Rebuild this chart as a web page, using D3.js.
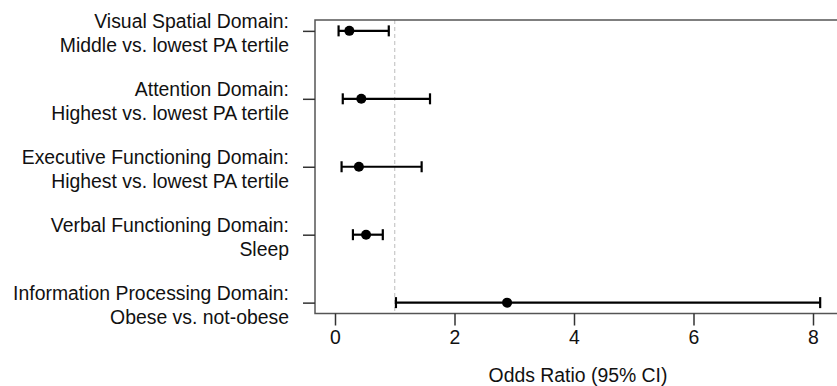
<!DOCTYPE html>
<html>
<head>
<meta charset="utf-8">
<script src="https://cdn.jsdelivr.net/npm/d3@7"></script>
<style>
  html, body { margin: 0; padding: 0; background: #fff; }
  svg { display: block; font-family: 'Liberation Sans', Arial, sans-serif; }
</style>
</head>
<body>
<div id="chart"></div>
<script>
// outcome labels, two lines each
const labelTop = [
  'Visual Spatial Domain:',
  'Attention Domain:',
  'Executive Functioning Domain:',
  'Verbal Functioning Domain:',
  'Information Processing Domain:'
];
const labelBottom = [
  'Middle vs. lowest PA tertile',
  'Highest vs. lowest PA tertile',
  'Highest vs. lowest PA tertile',
  'Sleep',
  'Obese vs. not-obese'
];
const oddsRatio = [0.24, 0.44, 0.40, 0.52, 2.88];
const ciLow = [0.06, 0.13, 0.11, 0.30, 1.02];
const ciHigh = [0.90, 1.59, 1.45, 0.80, 8.12];
const xTicks = [0, 2, 4, 6, 8];
const refValue = 1;

const width = 837;
const height = 386;
const frame = { left: 315, right: 841, top: 20, bottom: 313.5 };
const fontSize = 19.4;

const rows = labelTop.map((t, i) => ({
  id: i, top: t, bottom: labelBottom[i],
  or: oddsRatio[i], lo: ciLow[i], hi: ciHigh[i]
}));

const svg = d3.select('#chart')
  .append('svg')
  .attr('width', width)
  .attr('height', height);

const x = d3.scaleLinear()
  .domain([0, 8])
  .range([335, 813]);

const y = d3.scalePoint()
  .domain(rows.map(d => d.id))
  .range([frame.top, frame.bottom])
  .padding(0.16);

// reference line at OR = 1
svg.append('line')
  .attr('x1', x(refValue))
  .attr('x2', x(refValue))
  .attr('y1', frame.top)
  .attr('y2', frame.bottom)
  .attr('stroke', '#bdbdbd')
  .attr('stroke-width', 1)
  .attr('stroke-dasharray', '4,3');

// plot box
svg.append('rect')
  .attr('x', frame.left)
  .attr('y', frame.top)
  .attr('width', frame.right - frame.left)
  .attr('height', frame.bottom - frame.top)
  .attr('fill', 'none')
  .attr('stroke', '#555')
  .attr('stroke-width', 1.5);

// x axis
const xAxis = svg.append('g')
  .attr('class', 'x-axis')
  .attr('transform', `translate(0, ${frame.bottom})`)
  .call(d3.axisBottom(x).tickValues(xTicks).tickSize(12).tickPadding(5).tickFormat(d3.format('d')));
xAxis.select('.domain').remove();
xAxis.selectAll('line').attr('stroke', '#333').attr('stroke-width', 1.5);
xAxis.selectAll('text')
  .attr('font-size', fontSize)
  .attr('font-family', "'Liberation Sans', Arial, sans-serif")
  .attr('fill', '#111');

svg.append('text')
  .attr('x', (frame.left + frame.right) / 2)
  .attr('y', 374.5)
  .attr('text-anchor', 'middle')
  .attr('dominant-baseline', 'central')
  .attr('font-size', fontSize)
  .attr('fill', '#111')
  .text('Odds Ratio (95% CI)');

// y axis
const yAxis = svg.append('g')
  .attr('class', 'y-axis')
  .attr('transform', `translate(${frame.left}, 0)`)
  .call(d3.axisLeft(y).tickSize(12).tickFormat(''));
yAxis.select('.domain').remove();
yAxis.selectAll('line').attr('stroke', '#333').attr('stroke-width', 1.5);

const labels = svg.append('g')
  .attr('class', 'row-labels')
  .selectAll('text')
  .data(rows)
  .join('text')
  .attr('text-anchor', 'end')
  .attr('font-size', fontSize)
  .attr('fill', '#111');
labels.append('tspan')
  .attr('x', 289)
  .attr('y', d => y(d.id) - 10)
  .attr('dominant-baseline', 'central')
  .text(d => d.top);
labels.append('tspan')
  .attr('x', 289)
  .attr('y', d => y(d.id) + 14)
  .attr('dominant-baseline', 'central')
  .text(d => d.bottom);

// error bars
const bars = svg.append('g')
  .attr('class', 'ci-bars')
  .selectAll('g')
  .data(rows)
  .join('g');
bars.append('line')
  .attr('x1', d => x(d.lo))
  .attr('x2', d => x(d.hi))
  .attr('y1', d => y(d.id))
  .attr('y2', d => y(d.id))
  .attr('stroke', '#000')
  .attr('stroke-width', 2.2);
bars.selectAll('.cap')
  .data(d => [{ v: d.lo, id: d.id }, { v: d.hi, id: d.id }])
  .join('line')
  .attr('class', 'cap')
  .attr('x1', d => x(d.v))
  .attr('x2', d => x(d.v))
  .attr('y1', d => y(d.id) - 5.5)
  .attr('y2', d => y(d.id) + 5.5)
  .attr('stroke', '#000')
  .attr('stroke-width', 2.2);
bars.append('circle')
  .attr('cx', d => x(d.or))
  .attr('cy', d => y(d.id))
  .attr('r', 5)
  .attr('fill', '#000');
</script>
</body>
</html>
